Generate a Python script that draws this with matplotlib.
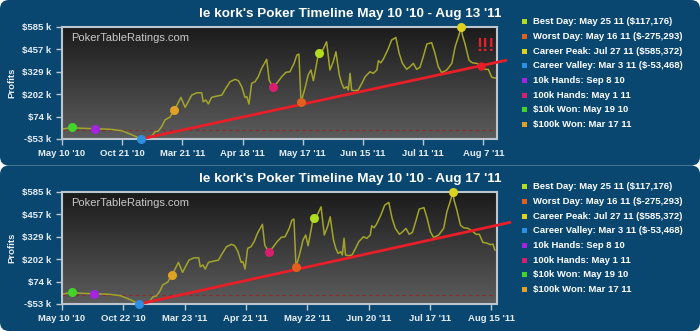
import numpy as np
import matplotlib
matplotlib.use('Agg')
import matplotlib.pyplot as plt
from matplotlib.patches import FancyBboxPatch
from matplotlib.colors import LinearSegmentedColormap

plt.rcParams['font.family'] = ['Liberation Sans', 'DejaVu Sans']

# cumulative profit ($k) by session index
session = [0, 3.3, 6, 11, 16, 19.8, 22.6, 24.6, 26.2, 27.9, 29.8, 30.9, 32, 33.2, 34.2,
           35.9, 37.2, 38.2, 39.5, 40.9, 43.1, 44.8, 46.4, 46.9, 47.8, 48.6, 49.7, 51.4,
           53.1, 54.2, 55.8, 57.5, 58.6, 59.7, 60.8, 61.4, 62.1, 63, 64.1, 65.2, 66.3, 68,
           68.8, 69.7, 70.2, 71.5, 73, 74.4, 75.7, 77.1, 78, 78.7, 79.4, 80.7, 81.8, 82.7,
           83.5, 84.4, 85.1, 85.5, 86.6, 87.9, 89, 90.1, 91, 92.1, 92.9, 93.7, 94.6, 95.1,
           95.7, 96.2, 97.1, 98.4, 99.6, 100.7, 102.3, 103.4, 104.6, 105.1, 105.9, 106.7,
           108.2, 109.5, 110.9, 112, 113.1, 114.5, 115.6, 116.7, 117.8, 118.9, 120, 121.2,
           122.8, 123.9, 125, 126.1, 127.8, 129.5, 130.6, 131.7, 132.6, 133, 133.9, 135.2,
           136.3, 137.8, 139.2, 140.5, 141.6, 142.8, 144.1]
profit = [2, 13, 8, 5, 2, -6, -25, -40, -53.468, -48, -37, -12, -8, 20, 55,
          72, 112, 140, 184, 127, 197, 210, 210, 159, 169, 146, 184, 191,
          197, 230, 273, 287, 279, 245, 184, 188, 146, 264, 273, 302, 349, 401,
          283, 254, 245, 268, 302, 327, 330, 378, 425, 431, 156, 235, 313, 340,
          279, 359, 425, 435, 454, 501, 340, 387, 444, 313, 264, 235, 245, 226,
          321, 226, 222, 226, 264, 302, 330, 321, 340, 393, 381, 401,
          454, 511, 526, 435, 378, 344, 359, 378, 344, 355, 416, 488,
          496, 435, 359, 325, 340, 378, 473, 530, 585.372, 540, 488, 396,
          381, 378, 363, 344, 344, 298, 294]
# sessions added by Aug 17
extra_session = [145.3, 146.2, 146.9]
extra_profit = [285, 288, 254]

titles = ["le kork's Poker Timeline May 10 '10 - Aug 13 '11",
          "le kork's Poker Timeline May 10 '10 - Aug 17 '11"]
xlabels_top = ["May 10 '10", "Oct 21 '10", "Mar 21 '11", "Apr 18 '11",
               "May 17 '11", "Jun 15 '11", "Jul 11 '11", "Aug 7 '11"]
xlabels_bot = ["May 10 '10", "Oct 22 '10", "Mar 23 '11", "Apr 21 '11",
               "May 22 '11", "Jun 20 '11", "Jul 17 '11", "Aug 15 '11"]
ytick_vals = [-53.468, 74.3, 202.1, 329.8, 457.6, 585.372]
ytick_labels = ['-$53 k', '$74 k', '$202 k', '$329 k', '$457 k', '$585 k']

event_labels = ["Best Day: May 25 11 ($117,176)", "Worst Day: May 16 11 ($-275,293)",
                "Career Peak: Jul 27 11 ($585,372)", "Career Valley: Mar 3 11 ($-53,468)",
                "10k Hands: Sep 8 10", "100k Hands: May 1 11",
                "$10k Won: May 19 10", "$100k Won: Mar 17 11"]
event_x = [85.5, 79.4, 132.6, 26.2, 11, 70.2, 3.3, 37.2]
event_y = [435, 156, 585.372, -53.468, 5, 245, 13, 112]
event_colors = ['#b2dc1e', '#e2601c', '#dcd21e', '#2c8fe0',
                '#a424e0', '#d81e6e', '#42d42a', '#e0a224']

trend_slope = 3.7  # $k per session, from career valley
alert_x, alert_y = 139.2, 363

panel_col = '#0a4770'
fig = plt.figure(figsize=(7, 3.31), dpi=100, facecolor='white')

bg = fig.add_axes([0, 0, 1, 1], zorder=-5)
bg.set_xlim(0, 700)
bg.set_ylim(331, 0)
bg.axis('off')
for y0, h in [(0, 165.5), (165.5, 165.5)]:
    bg.add_patch(FancyBboxPatch((0, y0), 700, h, boxstyle='round,pad=0,rounding_size=9',
                                fc=panel_col, ec='none'))

grad = LinearSegmentedColormap.from_list('g', ['#1b1b1b', '#5c5c5c'])
frame_col = '#bcc6d0'
txt_col = '#e6edf3'

configs = [
    dict(top=27, xmax=144.5, step=20.0, xl=xlabels_top, xs=session, ys=profit, tend=147.8, alert=True),
    dict(top=192, xmax=147.6, step=20.8, xl=xlabels_bot, xs=session + extra_session,
         ys=profit + extra_profit, tend=152.4, alert=False),
]

for i, c in enumerate(configs):
    ax = fig.add_axes([62 / 700, 1 - (c['top'] + 112) / 331, 435 / 700, 112 / 331])
    ax.imshow(np.linspace(0, 1, 100).reshape(-1, 1), cmap=grad, aspect='auto',
              extent=[0, 1, 0, 1], transform=ax.transAxes, zorder=0)
    ax.axhline(0, color='#8a2a2a', lw=0.8, ls=(0, (3, 3)), zorder=1)
    ax.plot(c['xs'], c['ys'], color='#a3a52a', lw=1.1, zorder=2)
    vx, vy = event_x[3], event_y[3]
    ax.plot([vx, c['tend']], [vy, vy + trend_slope * (c['tend'] - vx)],
            color='#e81e28', lw=2, zorder=3, clip_on=False, solid_capstyle='butt')
    for ex, ey, col in zip(event_x, event_y, event_colors):
        ax.plot(ex, ey, 'o', ms=6.5, color=col, mec='none', zorder=4, clip_on=False)
    if c['alert']:
        ax.plot(alert_x, alert_y, 'o', ms=6, color='#e81e28', mec='none', zorder=4)
        ax.text(alert_x + 1.5, alert_y + 60, '!!!', color='#e81e28', fontsize=13,
                fontweight='bold', ha='center', va='bottom', zorder=5)
    ax.set_xlim(0, c['xmax'])
    ax.set_ylim(ytick_vals[0], ytick_vals[-1])
    ax.set_xticks([k * c['step'] for k in range(len(c['xl']))])
    ax.set_xticklabels(c['xl'])
    ax.set_yticks(ytick_vals)
    ax.set_yticklabels(ytick_labels)
    ax.tick_params(colors=frame_col, labelcolor=txt_col, length=4, width=1, pad=3.5,
                   labelsize=6.8)
    for lab in ax.get_xticklabels() + ax.get_yticklabels():
        lab.set_fontweight('bold')
    for s in ax.spines.values():
        s.set_color(frame_col)
        s.set_linewidth(1.5)
    ax.set_ylabel('Profits', color=txt_col, fontsize=6.8, fontweight='bold')
    ax.yaxis.set_label_coords(-0.105, 0.5)
    ax.text(0.022, 0.9, 'PokerTableRatings.com', transform=ax.transAxes, color='#c8c8c8',
            fontsize=8, va='center', ha='left', zorder=5)

    fig.text(0.5, 1 - (c['top'] - 13) / 331, titles[i], color='white', fontsize=9.7,
             fontweight='bold', ha='center', va='center')
    for j, (lab, col) in enumerate(zip(event_labels, event_colors)):
        yy = 1 - (c['top'] - 5.3 + 14.7 * j) / 331
        fig.patches.append(plt.Rectangle((521.5 / 700, yy - 2.5 / 331), 5 / 700, 5 / 331,
                                         transform=fig.transFigure, fc=col, ec='none'))
        fig.text(533 / 700, yy, lab, color='white', fontsize=6.8, fontweight='bold',
                 ha='left', va='center')

fig.savefig('out.png', dpi=100, facecolor='white')
